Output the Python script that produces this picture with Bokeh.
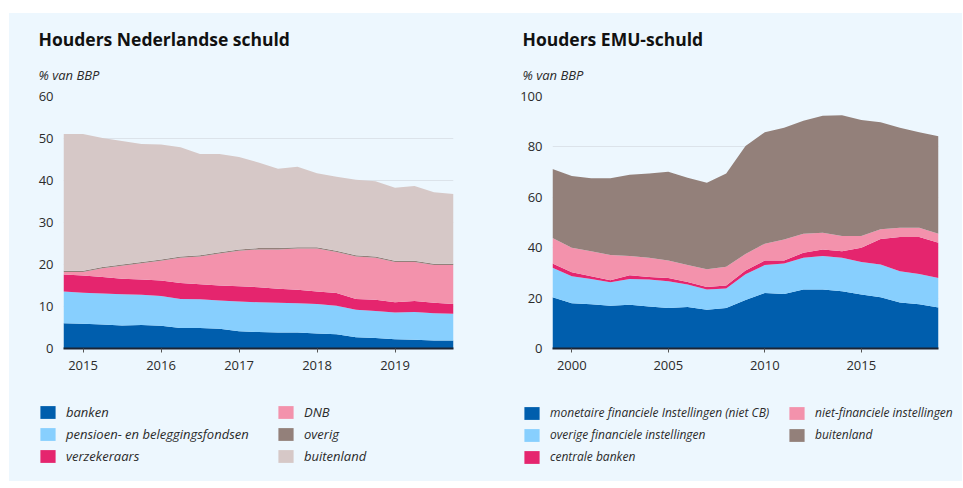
from bokeh.plotting import figure
from bokeh.models import (ColumnDataSource, Range1d, FixedTicker, Legend,
                          LegendItem, Title, Spacer)
from bokeh.layouts import row, column
from bokeh.embed import file_html
from bokeh.resources import INLINE

# ---------------- data: Houders Nederlandse schuld (% van BBP, per kwartaal)
quarters = ["2014Q4", "2015Q1", "2015Q2", "2015Q3", "2015Q4", "2016Q1", "2016Q2",
            "2016Q3", "2016Q4", "2017Q1", "2017Q2", "2017Q3", "2017Q4", "2018Q1",
            "2018Q2", "2018Q3", "2018Q4", "2019Q1", "2019Q2", "2019Q3", "2019Q4"]
nl_banken = [6.0, 5.9, 5.7, 5.5, 5.6, 5.4, 4.9, 4.9, 4.7, 4.1, 3.9, 3.8, 3.8, 3.6,
             3.4, 2.7, 2.5, 2.2, 2.1, 1.9, 1.9]
nl_pensioen = [7.6, 7.4, 7.4, 7.4, 7.2, 7.1, 6.9, 6.8, 6.7, 7.1, 7.1, 7.1, 7.0, 7.0,
               6.8, 6.5, 6.4, 6.4, 6.6, 6.5, 6.4]
nl_verzekeraars = [4.0, 4.1, 3.9, 3.7, 3.6, 3.7, 3.8, 3.6, 3.6, 3.6, 3.6, 3.3, 3.2,
                   3.0, 3.0, 2.6, 2.7, 2.4, 2.6, 2.5, 2.3]
nl_dnb = [0.6, 0.8, 2.1, 3.1, 3.9, 4.7, 6.0, 6.6, 7.6, 8.5, 9.0, 9.4, 9.8, 10.2, 9.8,
          10.1, 10.0, 9.6, 9.3, 9.0, 9.3]
nl_overig = [0.3, 0.3, 0.3, 0.3, 0.3, 0.3, 0.3, 0.3, 0.3, 0.3, 0.3, 0.3, 0.3, 0.3,
             0.3, 0.3, 0.3, 0.3, 0.3, 0.3, 0.3]
nl_buitenland = [32.6, 32.6, 30.7, 29.4, 28.1, 27.4, 26.0, 24.1, 23.4, 22.0, 20.4,
                 18.9, 19.2, 17.6, 17.6, 18.0, 17.9, 17.4, 17.8, 17.0, 16.6]
nl_labels = ["banken", "pensioen- en beleggingsfondsen", "verzekeraars",
             "DNB", "overig", "buitenland"]
nl_ticks = [2015, 2016, 2017, 2018, 2019]
nl_yticks = [0, 10, 20, 30, 40, 50, 60]

# ---------------- data: Houders EMU-schuld (% van BBP, per jaar)
years = [1999, 2000, 2001, 2002, 2003, 2004, 2005, 2006, 2007, 2008, 2009, 2010,
         2011, 2012, 2013, 2014, 2015, 2016, 2017, 2018, 2019]
emu_mfi = [20.3, 18.0, 17.6, 17.0, 17.4, 16.7, 16.1, 16.5, 15.4, 16.1, 19.2, 22.0,
           21.6, 23.4, 23.4, 22.7, 21.4, 20.3, 18.3, 17.6, 16.3]
emu_ofi = [11.7, 10.7, 10.0, 9.3, 10.2, 10.7, 10.6, 8.9, 8.0, 7.7, 10.3, 11.1, 12.1,
           12.6, 13.3, 13.3, 12.9, 13.0, 12.4, 12.0, 11.7]
emu_cb = [1.7, 1.6, 1.1, 0.8, 1.5, 1.0, 1.3, 1.0, 1.0, 1.2, 1.5, 1.8, 1.2, 2.0, 2.6,
          2.6, 5.7, 10.2, 13.5, 14.6, 14.0]
emu_nf = [10.1, 9.7, 9.9, 10.0, 7.6, 7.6, 6.9, 6.7, 7.0, 7.4, 6.5, 6.7, 8.4, 7.5, 6.6,
          6.0, 4.6, 3.8, 3.7, 3.7, 3.5]
emu_buitenland = [27.4, 28.5, 29.0, 30.5, 32.2, 33.4, 35.2, 34.7, 34.4, 37.0, 42.9,
                  44.2, 44.3, 44.9, 46.5, 48.0, 46.1, 42.5, 39.7, 37.9, 38.7]
emu_labels = ["monetaire financiele Instellingen (niet CB)",
              "overige financiele instellingen", "centrale banken",
              "niet-financiele instellingen", "buitenland"]
emu_ticks = [2000, 2005, 2010, 2015]
emu_yticks = [0, 20, 40, 60, 80, 100]

# ---------------- style
BG = "#EDF7FE"
DARK_BLUE = "#005EAD"
LIGHT_BLUE = "#87CFFE"
RED = "#E5256E"
PINK = "#F392AC"
BROWN = "#93807A"
BEIGE = "#D6C8C7"
FONT = "Open Sans"
TXT = "#2b2b2b"


def quarter_pos(q):
    return int(q[:4]) + (int(q[-1]) - 1) / 4.0


def make_panel(title, x, series, labels, colors, xr, yr, xticks, yticks,
               left, fw, right, title_dx, legend_x, label_w, leg_font,
               leg_spacing):
    names = ["s%d" % i for i in range(len(series))]
    data = {"x": x}
    for n, s in zip(names, series):
        data[n] = s
    src = ColumnDataSource(data)
    width = left + fw + right

    p = figure(frame_width=fw, frame_height=252, x_range=Range1d(*xr),
               y_range=Range1d(*yr), output_backend="svg", toolbar_location=None,
               min_border_left=left, min_border_right=right, min_border_top=83,
               min_border_bottom=40)
    p.background_fill_color = BG
    p.border_fill_color = BG
    p.outline_line_color = None

    p.varea_stack(stackers=names, x="x", color=colors, source=src)

    sub = Title(text="% van BBP", text_font=FONT, text_font_style="italic",
                text_font_size="13px", text_color=TXT, align="left",
                offset=title_dx, standoff=26)
    p.add_layout(sub, "above")
    main = Title(text=title, text_font=FONT, text_font_style="bold",
                 text_font_size="17.5px", text_color="#111111", align="left",
                 offset=title_dx, standoff=0)
    p.add_layout(main, "above")

    p.xgrid.visible = False
    p.ygrid.ticker = FixedTicker(ticks=yticks)
    p.ygrid.grid_line_color = "#DCE3EA"

    ya = p.yaxis[0]
    ya.ticker = FixedTicker(ticks=yticks)
    ya.axis_line_color = None
    ya.major_tick_line_color = None
    ya.major_tick_out = 0
    ya.major_tick_in = 0
    ya.minor_tick_line_color = None
    ya.minor_tick_out = 0
    ya.major_label_standoff = 10
    ya.major_label_text_font = FONT
    ya.major_label_text_font_size = "13px"
    ya.major_label_text_color = TXT

    xa = p.xaxis[0]
    xa.ticker = FixedTicker(ticks=xticks)
    xa.axis_line_color = "#1C2433"
    xa.axis_line_width = 2
    xa.major_tick_line_color = "#555555"
    xa.major_tick_out = 4
    xa.major_tick_in = 0
    xa.minor_tick_line_color = None
    xa.major_label_standoff = 8
    xa.major_label_text_font = FONT
    xa.major_label_text_font_size = "13px"
    xa.major_label_text_color = TXT

    # legend in its own strip below the chart (dummy renderers outside range)
    lg = figure(frame_width=width, frame_height=93, x_range=Range1d(0, 1),
                y_range=Range1d(0, 1), output_backend="svg",
                toolbar_location=None, x_axis_type=None, y_axis_type=None,
                min_border=0)
    lg.background_fill_color = BG
    lg.border_fill_color = BG
    lg.outline_line_color = None
    lg.xgrid.visible = False
    lg.ygrid.visible = False
    items = []
    for lab, c in zip(labels, colors):
        r = lg.varea(x=[-2, -1], y1=[-2, -2], y2=[-1, -1], fill_color=c)
        items.append(LegendItem(label=lab, renderers=[r]))
    leg = Legend(items=items, nrows=3, location=(legend_x, 16),
                 glyph_width=19, glyph_height=16, label_height=16,
                 label_width=label_w, label_standoff=9, spacing=leg_spacing,
                 padding=0, margin=0, border_line_color=None,
                 background_fill_alpha=0, label_text_font=FONT,
                 label_text_font_style="italic", label_text_font_size=leg_font,
                 label_text_color=TXT)
    lg.add_layout(leg, "center")
    return column(p, lg, styles={"background-color": BG})


nl_x = [quarter_pos(q) for q in quarters]
c1 = make_panel("Houders Nederlandse schuld", nl_x,
                [nl_banken, nl_pensioen, nl_verzekeraars, nl_dnb, nl_overig,
                 nl_buitenland],
                nl_labels, [DARK_BLUE, LIGHT_BLUE, RED, PINK, BROWN, BEIGE],
                (nl_x[0], nl_x[-1]), (0, 60), nl_ticks, nl_yticks,
                left=54, fw=390, right=33, title_dx=-25, legend_x=29,
                label_w=206, leg_font="13px", leg_spacing=4)

c2 = make_panel("Houders EMU-schuld", years,
                [emu_mfi, emu_ofi, emu_cb, emu_nf, emu_buitenland],
                emu_labels, [DARK_BLUE, LIGHT_BLUE, RED, PINK, BROWN],
                (years[0], years[-1]), (0, 100), emu_ticks, emu_yticks,
                left=66, fw=386, right=24, title_dx=-30, legend_x=36,
                label_w=232, leg_font="12px", leg_spacing=5)

inner = row(c1, c2, styles={"background-color": BG})
layout = column(Spacer(width=962, height=13),
                row(Spacer(width=9, height=468), inner))
open("out.html", "w").write(file_html(layout, INLINE))
